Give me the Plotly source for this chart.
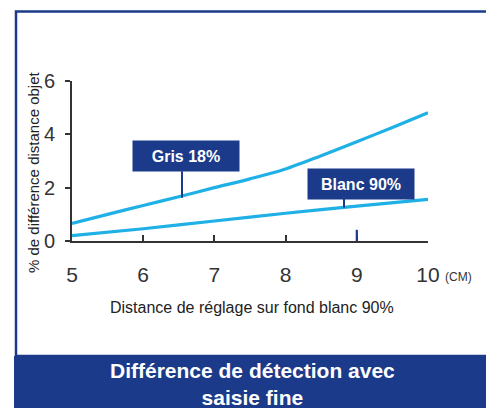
import plotly.graph_objects as go

distance_cm = [5, 5.5, 6, 6.5, 7, 7.5, 8, 8.5, 9, 9.5, 10]
gris_18 = [0.66, 1.00, 1.33, 1.66, 2.00, 2.33, 2.70, 3.20, 3.72, 4.26, 4.81]
blanc_x = [5, 6, 7, 8, 9, 10]
blanc_90 = [0.20, 0.46, 0.75, 1.04, 1.31, 1.56]
x_ticks = [5, 6, 7, 8, 9, 10]
y_ticks = [0, 2, 4, 6]

NAVY = "#1c3a8a"
CYAN = "#1fb0e6"
AX = "#333333"
FONT = "Liberation Sans, Arial, sans-serif"

OFF = 8  # default page margin of the html body
W, H = 494 - OFF, 408 - OFF
# plot area in page pixels
L, R, T, B = 72, 428, 81, 241


def px(p):
    return (p - L) / (R - L)


def py(p):
    return (B - p) / (B - T)


fig = go.Figure()
fig.add_trace(go.Scatter(x=distance_cm, y=gris_18, mode="lines", name="Gris 18%",
                         line=dict(color=CYAN, width=3.2, shape="spline", smoothing=0.8)))
fig.add_trace(go.Scatter(x=blanc_x, y=blanc_90, mode="lines", name="Blanc 90%",
                         line=dict(color=CYAN, width=3.2, shape="spline", smoothing=0.8)))

shapes = [
    dict(type="rect", xref="paper", yref="paper", x0=px(16), x1=px(489.5), y0=py(356), y1=py(11.5),
         line=dict(color=NAVY, width=2.5), layer="below"),
    dict(type="rect", xref="paper", yref="paper", x0=px(14), x1=px(491), y0=py(410), y1=py(356),
         fillcolor=NAVY, line=dict(width=0)),
    dict(type="line", xref="x", yref="y", x0=6.545, x1=6.545, y0=2.62, y1=1.62,
         line=dict(color=NAVY, width=2)),
    dict(type="line", xref="x", yref="y", x0=8.82, x1=8.82, y0=1.6, y1=1.25,
         line=dict(color=NAVY, width=2)),
    dict(type="line", xref="x", yref="y", x0=9, x1=9, y0=0.42, y1=-0.34,
         line=dict(color=NAVY, width=2.2)),
]

annotations = [
    dict(x=6.60, y=3.19, xref="x", yref="y", text="<b>Gris 18%</b>", showarrow=False,
         bgcolor=NAVY, width=106, height=30, font=dict(color="white", size=16, family=FONT),
         borderpad=0),
    dict(x=9.06, y=2.12, xref="x", yref="y", text="<b>Blanc 90%</b>", showarrow=False,
         bgcolor=NAVY, width=106, height=30, font=dict(color="white", size=16, family=FONT),
         borderpad=0),
    dict(x=10, y=py(277), xref="x", yref="paper", text="(CM)", showarrow=False,
         xanchor="left", yanchor="middle", xshift=15, font=dict(color=AX, size=12, family=FONT)),
    dict(x=px(252), y=py(307), xref="paper", yref="paper",
         text="Distance de réglage sur fond blanc 90%", showarrow=False,
         xanchor="center", yanchor="middle", font=dict(color="#222222", size=16, family=FONT)),
    dict(x=px(33), y=py(172), xref="paper", yref="paper",
         text="% de différence distance objet", showarrow=False, textangle=-90,
         xanchor="center", yanchor="middle", font=dict(color="#222222", size=15, family=FONT)),
    dict(x=px(252.5), y=py(383.5), xref="paper", yref="paper",
         text="<b>Différence de détection avec<br>saisie fine</b>", showarrow=False,
         xanchor="center", yanchor="middle",
         font=dict(color="white", size=21, family=FONT)),
]

fig.update_layout(
    width=W, height=H,
    margin=dict(l=L - OFF, r=W - (R - OFF), t=T - OFF, b=H - (B - OFF)),
    paper_bgcolor="white", plot_bgcolor="white",
    showlegend=False,
    shapes=shapes, annotations=annotations,
    font=dict(family=FONT, color=AX),
    xaxis=dict(range=[5, 10], tickvals=x_ticks, ticktext=[str(v) for v in x_ticks],
               showgrid=False, zeroline=False, showline=True, linecolor=AX, linewidth=2,
               ticks="inside", ticklen=6, tickwidth=2, tickcolor=AX,
               tickfont=dict(size=21, color=AX, family=FONT), ticklabelstandoff=14),
    yaxis=dict(range=[0, 6], tickvals=y_ticks, ticktext=[str(v) for v in y_ticks],
               showgrid=False, zeroline=False, showline=True, linecolor=AX, linewidth=2,
               ticks="outside", ticklen=5, tickwidth=2, tickcolor=AX,
               tickfont=dict(size=20, color=AX, family=FONT), ticklabelstandoff=6),
)

fig.write_html("out.html")
